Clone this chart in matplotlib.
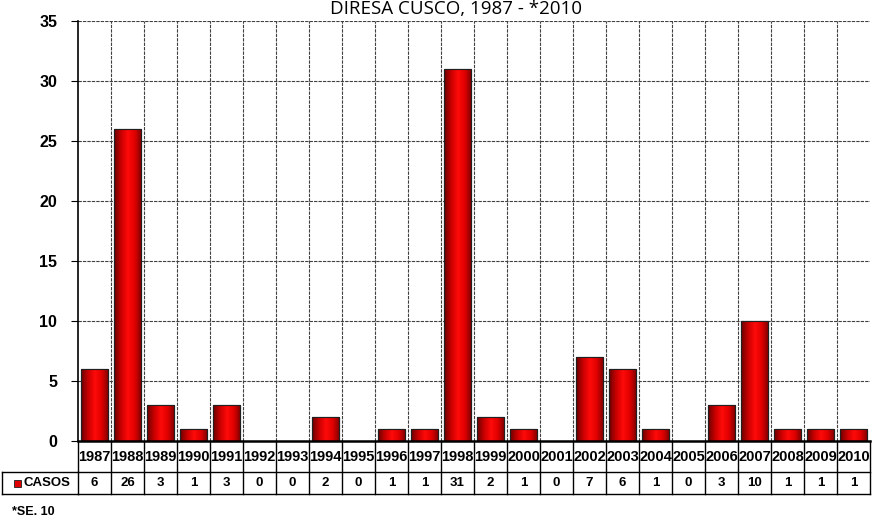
import numpy as np
import matplotlib
matplotlib.use("Agg")
import matplotlib.pyplot as plt
from matplotlib.colors import LinearSegmentedColormap
from matplotlib.transforms import blended_transform_factory

# -- Data
years = ['1987', '1988', '1989', '1990', '1991', '1992', '1993', '1994', '1995', '1996',
         '1997', '1998', '1999', '2000', '2001', '2002', '2003', '2004', '2005', '2006',
         '2007', '2008', '2009', '2010']
casos = [6, 26, 3, 1, 3, 0, 0, 2, 0, 1, 1, 31, 2, 1, 0, 7, 6, 1, 0, 3, 10, 1, 1, 1]
yticks = [0, 5, 10, 15, 20, 25, 30, 35]

plt.rcParams['font.family'] = ['Liberation Sans', 'DejaVu Sans']

fig = plt.figure(figsize=(8.72, 5.2), dpi=100)
ax = fig.add_axes([78 / 872, 1 - 441 / 520, 792 / 872, 420 / 520])

x = np.arange(len(years))
bars = ax.bar(x, casos, width=0.84, color='#e00000', edgecolor='#202020', linewidth=0.8, zorder=3)

# -- cylinder-like shading on each bar
cmap = LinearSegmentedColormap.from_list('red3d', ['#6a0000', '#c80000', '#ff0a0a', '#e00000', '#7a0000'])
grad = np.linspace(0, 1, 64).reshape(1, -1)
for b in bars:
    if b.get_height() <= 0:
        continue
    x0, w, h = b.get_x(), b.get_width(), b.get_height()
    im = ax.imshow(grad, cmap=cmap, extent=[x0, x0 + w, 0, h], aspect='auto', zorder=3.5)
    im.set_clip_path(b)
    ax.bar(b.get_x() + w / 2, h, width=w, fill=False, edgecolor='#202020', linewidth=0.8, zorder=4)

ax.set_xlim(-0.5, len(years) - 0.5)
ax.set_ylim(0, 35)
ax.set_yticks(yticks)
ax.set_yticklabels([str(t) for t in yticks], fontsize=11.5, fontweight='bold')
ax.set_xticks([])
ax.tick_params(axis='y', length=5, width=0.8, pad=10)

# -- gridlines
for yy in yticks[1:]:
    ax.axhline(yy, color='#404040', linestyle=(0, (3, 1)), linewidth=0.8, zorder=1)
for xx in np.arange(0.5, len(years) - 0.5, 1):
    ax.axvline(xx, color='#404040', linestyle=(0, (3, 1)), linewidth=0.8, zorder=1)

for s in ['top', 'right']:
    ax.spines[s].set_visible(False)
ax.spines['left'].set_linewidth(1.2)
ax.spines['bottom'].set_linewidth(1.8)
ax.spines['bottom'].set_zorder(5)

# -- data table under the chart
tr = blended_transform_factory(ax.transData, ax.transAxes)
y_mid = -(472 - 441) / 420
y_bot = -(494 - 441) / 420
for i, (yr, c) in enumerate(zip(years, casos)):
    ax.text(i, -(457 - 441) / 420, yr, transform=tr, ha='center', va='center',
            fontsize=10.5, fontweight='bold', clip_on=False)
    ax.text(i, -(483 - 441) / 420, str(c), transform=tr, ha='center', va='center',
            fontsize=9.5, fontweight='bold', clip_on=False)
for xx in np.arange(-0.5, len(years), 1):
    ax.plot([xx, xx], [0, y_bot], transform=tr, color='black', linewidth=1.0, clip_on=False)
ax.plot([-0.5, len(years) - 0.5], [y_mid, y_mid], transform=tr, color='black', linewidth=1.0, clip_on=False)
ax.plot([-0.5, len(years) - 0.5], [y_bot, y_bot], transform=tr, color='black', linewidth=1.0, clip_on=False)

# legend cell "CASOS"
fx0, fx1 = 2 / 872, 78 / 872
fy0, fy1 = 1 - 494 / 520, 1 - 472 / 520
fig.add_artist(plt.Line2D([fx0, fx1], [fy1, fy1], color='black', linewidth=1.0))
fig.add_artist(plt.Line2D([fx0, fx1], [fy0, fy0], color='black', linewidth=1.0))
fig.add_artist(plt.Line2D([fx0, fx0], [fy0, fy1], color='black', linewidth=1.0))
fig.add_artist(plt.Rectangle((14 / 872, 1 - 487 / 520), 7 / 872, 7 / 520, facecolor='#e00000',
                             edgecolor='#202020', linewidth=0.6))
fig.text(23 / 872, 1 - 483 / 520, 'CASOS', fontsize=9.5, fontweight='bold', va='center', ha='left')

fig.text(456 / 872, 1 - 14 / 520, 'DIRESA CUSCO, 1987 - *2010', fontsize=13.5, ha='center', va='baseline',
         family=['Open Sans', 'DejaVu Sans'])
fig.text(12 / 872, 1 - 512 / 520, '*SE. 10', fontsize=9, fontweight='bold', va='center', ha='left')

plt.savefig('out.png', dpi=100)
